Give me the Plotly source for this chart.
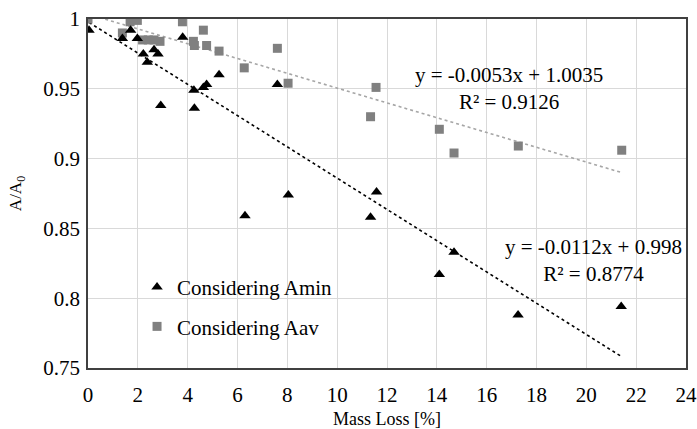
import numpy as np
import plotly.graph_objects as go

# Mass loss [%] and normalised area A/A0, minimum cross-section
mass_loss_amin = [0.04, 1.38, 1.71, 1.98, 2.22, 2.38, 2.65, 2.81, 2.92, 3.80, 4.25, 4.27,
                  4.63, 4.76, 5.26, 6.30, 7.60, 8.04, 11.34, 11.58, 14.10, 14.69, 17.26, 21.40]
ratio_amin = [0.992, 0.986, 0.992, 0.986, 0.975, 0.969, 0.978, 0.975, 0.938, 0.987, 0.949, 0.936,
              0.951, 0.953, 0.960, 0.859, 0.953, 0.874, 0.858, 0.876, 0.817, 0.833, 0.788, 0.794]

# Mass loss [%] and normalised area A/A0, average cross-section
mass_loss_aav = [0.00, 1.38, 1.69, 1.98, 2.19, 2.42, 2.65, 2.89, 3.79, 4.23, 4.27, 4.63,
                 4.76, 5.26, 6.27, 7.60, 8.03, 11.34, 11.56, 14.10, 14.69, 17.27, 21.42]
ratio_aav = [1.000, 0.990, 0.998, 0.999, 0.985, 0.985, 0.985, 0.984, 0.998, 0.984, 0.981, 0.992,
             0.981, 0.977, 0.965, 0.979, 0.954, 0.930, 0.951, 0.921, 0.904, 0.909, 0.906]

# Linear fits (slope, intercept, R²)
fit_amin = (-0.0112, 0.998, 0.8774)
fit_aav = (-0.0053, 1.0035, 0.9126)

x_ticks = list(range(0, 25, 2))
y_ticks = [0.75, 0.8, 0.85, 0.9, 0.95, 1.0]

FONT = "Liberation Serif, Times New Roman, serif"

fig = go.Figure()


def trend(xs, fit):
    xr = np.array([min(xs), max(xs)])
    return xr, fit[0] * xr + fit[1]


tx, ty = trend(mass_loss_amin, fit_amin)
fig.add_trace(go.Scatter(x=tx, y=ty, mode="lines", showlegend=False, hoverinfo="skip",
                         line=dict(color="#000000", width=1.6, dash="dot")))
tx, ty = trend(mass_loss_aav, fit_aav)
fig.add_trace(go.Scatter(x=tx, y=ty, mode="lines", showlegend=False, hoverinfo="skip",
                         line=dict(color="#a6a6a6", width=1.6, dash="dot")))

fig.add_trace(go.Scatter(x=mass_loss_aav, y=ratio_aav, mode="markers", name="Considering Aav",
                         legendgroup="aav", legendrank=2,
                         marker=dict(symbol="square", size=9, color="#808080")))
fig.add_trace(go.Scatter(x=mass_loss_amin, y=ratio_amin, mode="markers", name="Considering Amin",
                         legendgroup="amin", legendrank=1,
                         marker=dict(symbol="triangle-up", size=10, color="#000000")))


def eq_text(fit):
    s, b, r2 = fit
    return f"y = {s:.4f}x + {b:g}<br>R² = {r2:.4f}"


fig.add_annotation(x=16.9, y=0.9505, text=eq_text(fit_aav), showarrow=False,
                   font=dict(family=FONT, size=21, color="#000000"), align="center")
fig.add_annotation(x=20.27, y=0.827, text=eq_text(fit_amin), showarrow=False,
                   font=dict(family=FONT, size=21, color="#000000"), align="center")

fig.update_xaxes(range=[0, 24], tickvals=x_ticks, ticks="", showgrid=True, gridcolor="#d9d9d9",
                 gridwidth=1, showline=True, linecolor="#404040", linewidth=1.5, mirror=True,
                 zeroline=False, ticklabelstandoff=7, automargin=False,
                 tickfont=dict(family=FONT, size=21, color="#000000"),
                 title=dict(text="Mass Loss [%]", font=dict(family=FONT, size=18, color="#000000"),
                            standoff=8))
fig.update_yaxes(range=[0.75, 1.0], tickvals=y_ticks, ticks="", showgrid=True, gridcolor="#d9d9d9",
                 gridwidth=1, showline=True, linecolor="#404040", linewidth=1.5, mirror=True,
                 zeroline=False, ticklabelstandoff=2, automargin=False,
                 tickfont=dict(family=FONT, size=21, color="#000000"),
                 title=dict(text="A/A<sub>0</sub>", font=dict(family=FONT, size=17, color="#000000"),
                            standoff=17))

fig.update_layout(
    width=697, height=429,
    margin=dict(l=88, r=11, t=19, b=61),
    paper_bgcolor="#ffffff", plot_bgcolor="#ffffff",
    font=dict(family=FONT, color="#000000"),
    showlegend=True,
    legend=dict(x=0.082, y=0.175, xanchor="left", yanchor="middle", bgcolor="rgba(0,0,0,0)",
                font=dict(family=FONT, size=21, color="#000000"), tracegroupgap=9,
                traceorder="grouped"),
)

fig.write_html("out.html")
